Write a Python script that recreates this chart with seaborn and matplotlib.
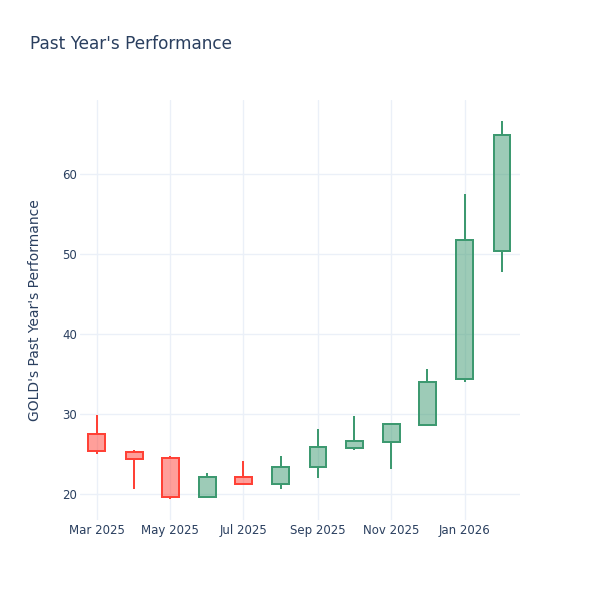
import matplotlib
matplotlib.use("Agg")
import matplotlib.pyplot as plt
import matplotlib.dates as mdates
import seaborn as sns
import pandas as pd
import numpy as np

months = ["2025-03-01", "2025-04-01", "2025-05-01", "2025-06-01", "2025-07-01", "2025-08-01",
          "2025-09-01", "2025-10-01", "2025-11-01", "2025-12-01", "2026-01-01", "2026-02-01"]
opens  = [27.45, 25.3, 24.45, 19.67, 22.17, 21.2, 23.42, 25.79, 26.46, 28.62, 34.33, 50.38]
highs  = [29.9, 25.5, 24.75, 22.67, 24.17, 24.8, 28.08, 29.75, 28.71, 35.67, 57.54, 66.58]
lows   = [24.96, 20.6, 19.42, 19.6, 21.2, 20.58, 22.04, 25.5, 23.08, 28.6, 34.04, 47.7]
closes = [25.4, 24.4, 19.67, 22.17, 21.25, 23.42, 25.83, 26.58, 28.71, 34.0, 51.75, 64.88]

title = "Past Year's Performance"
ylabel = "GOLD's Past Year's Performance"

df = pd.DataFrame({"date": pd.to_datetime(months), "open": opens, "high": highs,
                   "low": lows, "close": closes})

sns.set_theme(style="white")
plt.rcParams['font.family'] = ['DejaVu Sans']

INC = "#3D9970"
DEC = "#FF4136"
TXT = "#2a3f5f"
GRID = "#EBF0F8"

fig = plt.figure(figsize=(6, 6), dpi=100)
ax = fig.add_axes([80/600, 80/600, 440/600, 420/600])

lw = 1.44
width = pd.Timedelta(days=14)
for _, r in df.iterrows():
    col = INC if r["close"] >= r["open"] else DEC
    top = max(r["open"], r["close"])
    bot = min(r["open"], r["close"])
    x = r["date"]
    if r["high"] > top:
        ax.vlines(x, top, r["high"], color=col, lw=lw, zorder=2)
    if r["low"] < bot:
        ax.vlines(x, r["low"], bot, color=col, lw=lw, zorder=2)
    ax.bar(x, top - bot, bottom=bot, width=width, color=col, alpha=0.5,
           edgecolor="none", zorder=3)
    ax.bar(x, top - bot, bottom=bot, width=width, facecolor="none",
           edgecolor=col, linewidth=lw, zorder=4)

ax.set_xlim(pd.Timestamp("2025-02-15"), pd.Timestamp("2026-02-16"))
ax.set_ylim(16.75, 69.25)
ax.set_yticks([20, 30, 40, 50, 60])
ax.xaxis.set_major_locator(mdates.MonthLocator(bymonth=[1, 3, 5, 7, 9, 11]))
ax.xaxis.set_major_formatter(mdates.DateFormatter("%b %Y"))
ax.grid(True, color=GRID, lw=1, zorder=0)
ax.set_axisbelow(True)
for s in ax.spines.values():
    s.set_visible(False)
ax.tick_params(axis="both", length=0, labelsize=8.5, colors=TXT)
ax.tick_params(axis="x", pad=3)
ax.tick_params(axis="y", pad=2)
ax.set_ylabel(ylabel, fontsize=10, color=TXT, labelpad=15)

fig.text(30/600, 1 - 44/600, title, fontsize=12.2, color=TXT, ha="left", va="center")

fig.savefig("out.png", dpi=100)
